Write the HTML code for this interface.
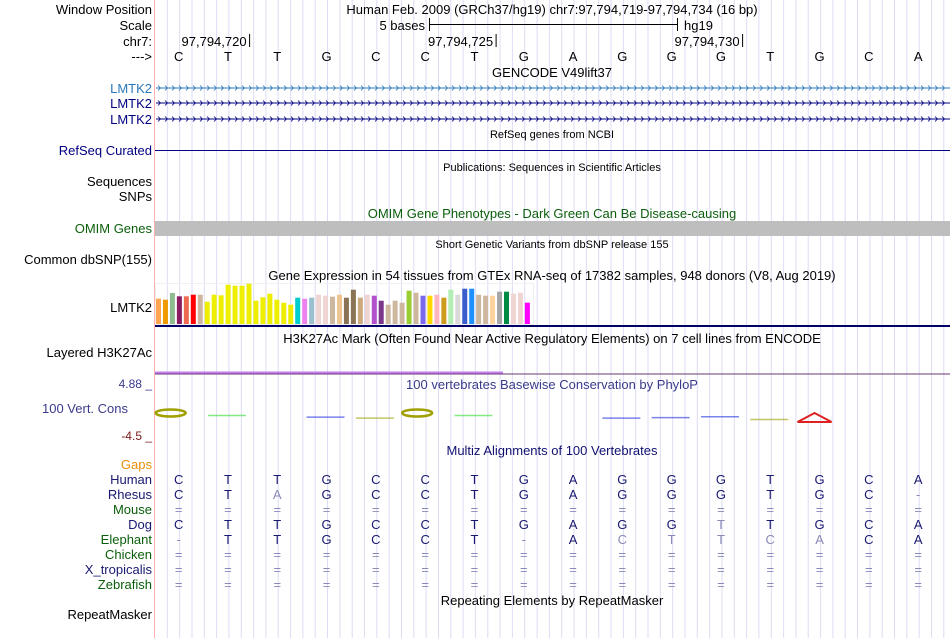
<!DOCTYPE html>
<html><head><meta charset="utf-8"><style>
html,body{margin:0;padding:0;background:#fff;}
svg{display:block;font-family:"Liberation Sans",sans-serif;}
</style></head><body>
<svg id="chart" width="950" height="638" viewBox="0 0 950 638">
<g id="grid"></g>
<line x1="154.5" y1="0" x2="154.5" y2="638" stroke="#ffb0b0" stroke-width="1"/>
<g font-size="13" fill="#000">
<text x="152" y="14" text-anchor="end">Window Position</text>
<text x="552" y="14" text-anchor="middle">Human Feb. 2009 (GRCh37/hg19)   chr7:97,794,719-97,794,734 (16 bp)</text>
<text x="152" y="30" text-anchor="end">Scale</text>
<text x="425" y="30" text-anchor="end">5 bases</text>
<text x="684" y="30">hg19</text>
<text x="152" y="46" text-anchor="end">chr7:</text>
<text x="152" y="61" text-anchor="end">---&gt;</text>
<text x="552" y="77" text-anchor="middle">GENCODE V49lift37</text>
</g>
<g stroke="#000" stroke-width="1">
<line x1="429.5" y1="18" x2="429.5" y2="31"/><line x1="677.5" y1="18" x2="677.5" y2="31"/><line x1="429" y1="24.5" x2="678" y2="24.5"/>
</g>
<g id="ticks" font-size="13"></g>
<g id="bases" font-size="13"></g>
<g id="genes"></g>
<text x="552" y="138" font-size="11" text-anchor="middle">RefSeq genes from NCBI</text>
<text x="152" y="155" font-size="13" fill="#000080" text-anchor="end">RefSeq Curated</text>
<line x1="155" y1="150.5" x2="950" y2="150.5" stroke="#000080"/>
<text x="552" y="171" font-size="11" text-anchor="middle">Publications: Sequences in Scientific Articles</text>
<text x="152" y="186" font-size="13" text-anchor="end">Sequences</text>
<text x="152" y="201" font-size="13" text-anchor="end">SNPs</text>
<text x="552" y="218" font-size="13" fill="#0b5e0b" text-anchor="middle">OMIM Gene Phenotypes - Dark Green Can Be Disease-causing</text>
<rect x="155" y="221" width="795" height="15" fill="#bebebe"/>
<text x="152" y="233" font-size="13" fill="#0b5e0b" text-anchor="end">OMIM Genes</text>
<text x="552" y="248" font-size="11" text-anchor="middle">Short Genetic Variants from dbSNP release 155</text>
<text x="152" y="264" font-size="13" text-anchor="end">Common dbSNP(155)</text>
<text x="552" y="280" font-size="13" text-anchor="middle">Gene Expression in 54 tissues from GTEx RNA-seq of 17382 samples, 948 donors (V8, Aug 2019)</text>
<rect x="155.5" y="283.5" width="378" height="41" fill="none" stroke="#f0f0f0"/>
<g id="gtex"></g>
<text x="152" y="312" font-size="13" text-anchor="end">LMTK2</text>
<line x1="155" y1="326" x2="950" y2="326" stroke="#000066" stroke-width="2"/>
<text x="552" y="343" font-size="13" text-anchor="middle">H3K27Ac Mark (Often Found Near Active Regulatory Elements) on 7 cell lines from ENCODE</text>
<text x="152" y="357" font-size="13" text-anchor="end">Layered H3K27Ac</text>
<line x1="155" y1="372.5" x2="503" y2="372.5" stroke="#c77ff0" stroke-width="2"/>
<line x1="155" y1="374" x2="950" y2="374" stroke="#6a3a72" stroke-width="1"/>
<text x="152" y="388" font-size="12" fill="#3a3a8c" text-anchor="end">4.88 _</text>
<text x="552" y="389" font-size="13" fill="#3a3a8c" text-anchor="middle">100 vertebrates Basewise Conservation by PhyloP</text>
<text x="128" y="413" font-size="13" fill="#3a3a8c" text-anchor="end">100 Vert. Cons</text>
<text x="152" y="440" font-size="12" fill="#7a1a1a" text-anchor="end">-4.5 _</text>
<g id="phylop"></g>
<text x="552" y="455" font-size="13" fill="#101070" text-anchor="middle">Multiz Alignments of 100 Vertebrates</text>
<text x="152" y="469" font-size="13" fill="#e8900a" text-anchor="end">Gaps</text>
<g id="align" font-size="13"></g>
<text x="552" y="605" font-size="13" text-anchor="middle">Repeating Elements by RepeatMasker</text>
<text x="152" y="619" font-size="13" text-anchor="end">RepeatMasker</text>
</svg>
<script>
const NS="http://www.w3.org/2000/svg";
const refBases=["C","T","T","G","C","C","T","G","A","G","G","G","T","G","C","A"];
const species=["Human","Rhesus","Mouse","Dog","Elephant","Chicken","X_tropicalis","Zebrafish"];
const speciesColors=["#191970","#191970","#0b5e0b","#191970","#0b5e0b","#0b5e0b","#191970","#0b5e0b"];
const alignRows=[
"CTTGCCTGAGGGTGCA",
"CTaGCCTGAGGGTGC-",
"================",
"CTTGCCTGAGGtTGCA",
"-TTGCCT-ActtcaCA",
"================",
"================",
"================"];
const gtexValues=[25.3,24.3,31,27.7,27.7,29.3,29.3,22.3,29.3,28.7,39.3,38.3,38.3,40.3,23.3,26.7,30.3,24.3,21.3,19.3,26.3,25.3,26.3,29.3,28.3,27.3,29.3,26.3,34.3,26.3,29.3,28.3,23.3,19.3,23.3,21.3,33.3,31.3,28.3,28.3,29.3,26.3,34.3,29.3,35.3,35.3,29.3,28.3,28.3,32.3,32.3,30.3,31.3,21.3];
const gtexColors=["#FFA54F","#EE9A00","#8FBC8F","#8B1C62","#EE6A50","#FF0000","#CDB79E","#EEEE00","#EEEE00","#EEEE00","#EEEE00","#EEEE00","#EEEE00","#EEEE00","#EEEE00","#EEEE00","#EEEE00","#EEEE00","#EEEE00","#EEEE00","#00CDCD","#EE82EE","#9AC0CD","#EED5D2","#EED5D2","#CDB79E","#EEC591","#8B7355","#8B7355","#CDAA7D","#EED5D2","#B452CD","#7A378B","#CDB79E","#CDB79E","#CDB79E","#9ACD32","#CDB79E","#7B68EE","#FFD700","#FFB6C1","#CD9B1D","#B4EEB4","#D9D9D9","#3A5FCD","#1E90FF","#CDB79E","#CDB79E","#FFD39B","#A6A6A6","#008B45","#EED5D2","#EED5D2","#FF00FF"];
const tickLabels=["97,794,720","97,794,725","97,794,730"];
const tickBaseIdx=[1,6,11];
const phylopScores=[3.2,0.4,0,-0.8,-1.5,3.2,0.4,0,0,-1.5,-1.2,-0.5,-2.5,-2.8,0,0];
const phylopColors=["#a0a000","#33dd33","#000","#2233dd","#a0a000","#a0a000","#33dd33","#000","#000","#2233dd","#2233dd","#2233dd","#a0a000","#dd2222","#000","#000"];

const X0=154, BW=49.3, GSTEP=BW/4;
const bx=i=>X0+BW*(i+0.5);
function el(tag,attrs,parent,name,inter){const e=document.createElementNS(NS,tag);for(const k in attrs)e.setAttribute(k,attrs[k]);


parent.appendChild(e);return e;}
const grid=document.getElementById('grid');
for(let x=155+GSTEP;x<950;x+=GSTEP){el('line',{x1:x.toFixed(1),y1:0,x2:x.toFixed(1),y2:638,stroke:'#dcdcf6','stroke-width':1},grid,'grid-line','false');}
const tk=document.getElementById('ticks');
tickLabels.forEach((t,k)=>{const x=155+BW*(tickBaseIdx[k]+1)-4;
el('line',{x1:x,y1:34,x2:x,y2:47,stroke:'#000'},tk,'position-tick','false');
const tx=el('text',{x:x-3,y:46,'text-anchor':'end'},tk,'position-tick-label','false');tx.textContent=t;});
const bg=document.getElementById('bases');
refBases.forEach((b,i)=>{const t=el('text',{x:bx(i),y:61,'text-anchor':'middle'},bg,'base-'+b,'false');t.textContent=b;});
const gg=document.getElementById('genes');
const geneY=[88,103,119], geneC=["#2b78b8","#000080","#000080"];
geneY.forEach((y,k)=>{
const lab=el('text',{x:152,y:y+5,'font-size':13,fill:geneC[k],'text-anchor':'end'},gg,'gene-label','true');lab.textContent='LMTK2';
el('line',{x1:156,y1:y,x2:950,y2:y,stroke:geneC[k]},gg,'gene-line','true');
let d='';for(let x=158;x<948;x+=7){d+=`M${x} ${y-2.5}L${x+2.5} ${y}L${x} ${y+2.5}`;}
el('path',{d:d,fill:'none',stroke:geneC[k],'stroke-width':0.8},gg,'gene-strand-arrows','false');});
const gx=document.getElementById('gtex');
const gBase=324, gScale=1.0, gPitch=6.96;
gtexValues.forEach((v,i)=>{const h=v*gScale;
el('rect',{x:(156+i*gPitch).toFixed(2),y:(gBase-h).toFixed(2),width:5,height:h.toFixed(2),fill:gtexColors[i]},gx,'gtex-bar','true');});
const pg=document.getElementById('phylop');
const pMid=416, pScale=1.4;
phylopScores.forEach((s,i)=>{if(s===0)return;const c=phylopColors[i];const x=bx(i);
if(s>2.5){
el('ellipse',{cx:x-8,cy:pMid-3,rx:15,ry:3.5,fill:'none',stroke:c,'stroke-width':2.5},pg,'phylop-glyph','false');
}else if(s<-2.5){
el('path',{d:`M${x-22} ${pMid+6}L${x-5} ${pMid-3}L${x+12} ${pMid+6}Z`,fill:'none',stroke:c,'stroke-width':2},pg,'phylop-peak','false');
}else{
const y=pMid-s*pScale;
el('line',{x1:x-20,y1:y,x2:x+18,y2:y,stroke:c,'stroke-width':1.5,opacity:0.6},pg,'phylop-dash','false');}});
const ag=document.getElementById('align');
species.forEach((sp,r)=>{const y=484+r*15;
const lab=el('text',{x:152,y:y,'text-anchor':'end',fill:speciesColors[r]},ag,'species-label','true');lab.textContent=sp;
const row=alignRows[r];
for(let i=0;i<16;i++){let ch=row[i];let light=false;
if(ch==='='||ch==='-'){light=true;}else if(ch!==ch.toUpperCase()){light=true;ch=ch.toUpperCase();}
const t=el('text',{x:bx(i),y:y,'text-anchor':'middle',fill:light?'#8a8ab8':'#191970'},ag,'alignment-base','false');t.textContent=ch;}});
</script>
</body></html>
